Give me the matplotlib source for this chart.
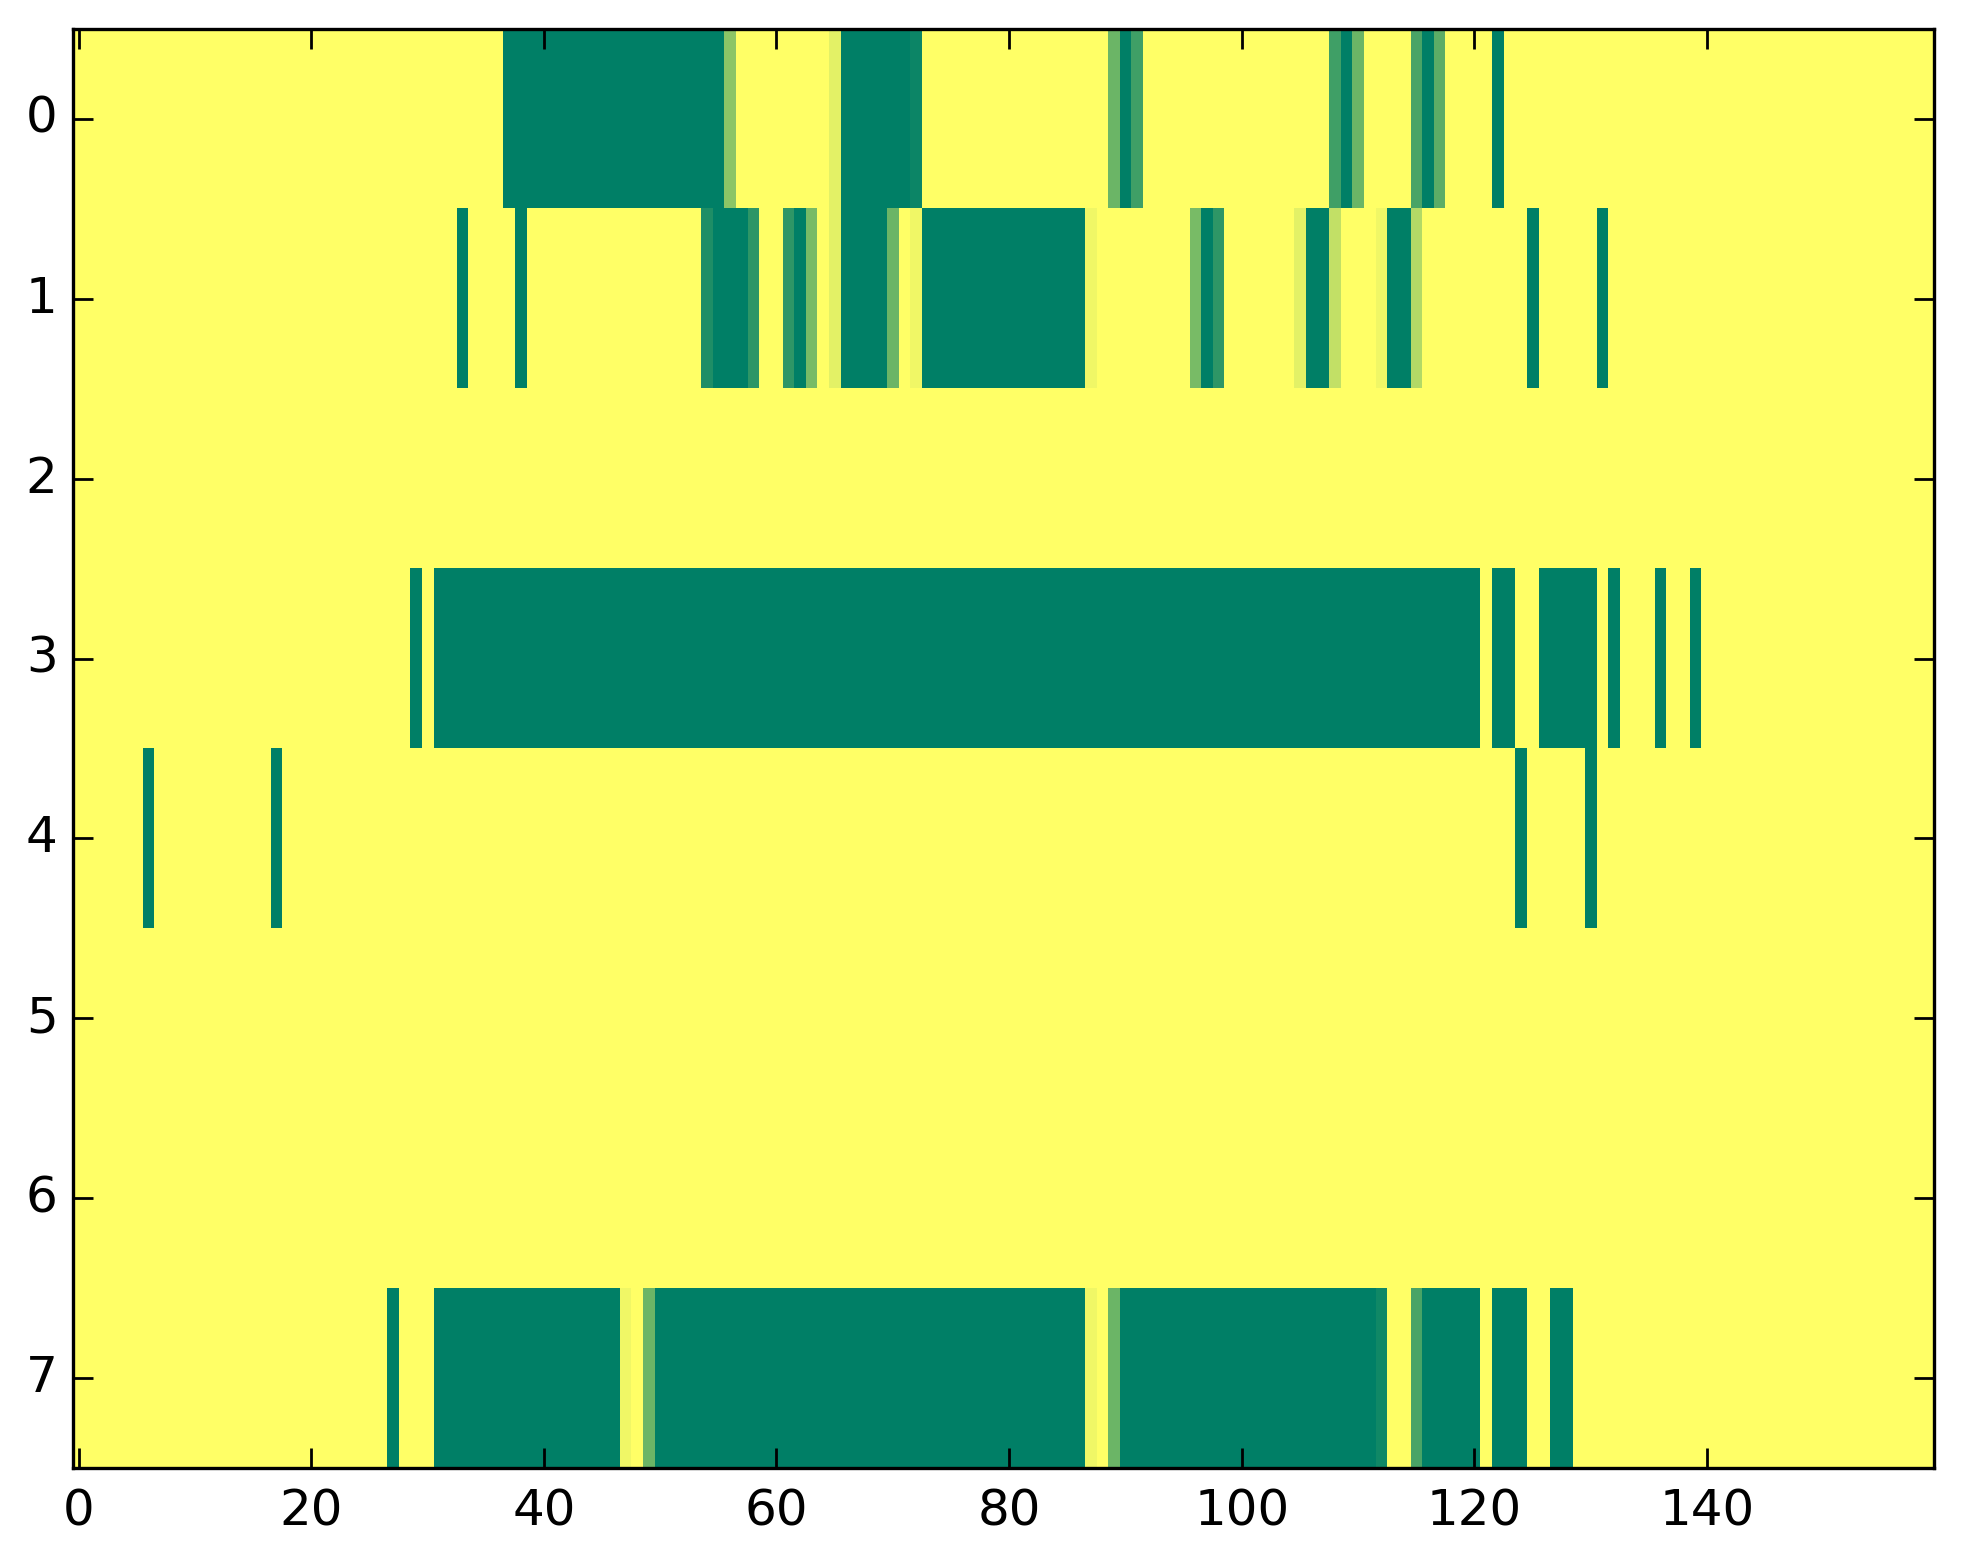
import numpy as np
import matplotlib
matplotlib.use("Agg")
import matplotlib.pyplot as plt

plt.style.use("classic")

N_ROWS = 8
N_COLS = 160

# runs of (first column, last column, value) for each row; the rest is 0
row0 = [(37, 55, 1.0), (56, 56, 0.45), (65, 65, 0.11), (66, 71, 1.0), (72, 72, 0.95),
        (89, 89, 0.58), (90, 90, 1.0), (91, 91, 0.75),
        (108, 108, 0.75), (109, 109, 1.0), (110, 110, 0.58),
        (115, 115, 0.71), (116, 116, 1.0), (117, 117, 0.64), (122, 122, 1.0)]
row1 = [(33, 33, 1.0), (38, 38, 1.0), (54, 54, 0.88), (55, 57, 1.0), (58, 58, 0.82),
        (61, 61, 0.82), (62, 62, 1.0), (63, 63, 0.53), (65, 65, 0.11), (66, 69, 1.0),
        (70, 70, 0.58), (72, 72, 0.06), (73, 86, 1.0), (87, 87, 0.06),
        (96, 96, 0.53), (97, 97, 1.0), (98, 98, 0.82),
        (105, 105, 0.11), (106, 107, 1.0), (108, 108, 0.24),
        (112, 112, 0.06), (113, 114, 1.0), (115, 115, 0.30),
        (125, 125, 1.0), (131, 131, 1.0)]
row2 = []
row3 = [(29, 29, 1.0), (31, 120, 1.0), (122, 123, 1.0), (126, 130, 1.0),
        (132, 132, 1.0), (136, 136, 1.0), (139, 139, 1.0)]
row4 = [(6, 6, 1.0), (17, 17, 1.0), (124, 124, 1.0), (130, 130, 1.0)]
row5 = []
row6 = []
row7 = [(27, 27, 1.0), (31, 46, 1.0), (47, 47, 0.06), (49, 49, 0.58), (50, 86, 1.0),
        (87, 87, 0.06), (89, 89, 0.58), (90, 111, 1.0), (112, 112, 0.93),
        (115, 115, 0.71), (116, 120, 1.0), (122, 124, 1.0), (127, 128, 1.0)]

rows = [row0, row1, row2, row3, row4, row5, row6, row7]

grid = np.zeros((N_ROWS, N_COLS))
for i, runs in enumerate(rows):
    for a, b, v in runs:
        grid[i, a:b + 1] = v

fig = plt.figure(figsize=(19.63, 15.64), dpi=100, facecolor="white")
ax = fig.add_axes([0.0371, 0.0614, 0.948, 0.9201])
ax.imshow(grid, cmap="summer_r", vmin=0, vmax=1, aspect="auto",
          interpolation="nearest")

ax.set_xticks(np.arange(0, 141, 20))
ax.set_yticks(np.arange(0, N_ROWS))
for sp in ax.spines.values():
    sp.set_linewidth(2.4)
ax.tick_params(which="major", direction="in", length=14.5, width=2,
               labelsize=36, top=True, right=True)
ax.tick_params(axis="x", pad=14)
ax.tick_params(axis="y", pad=11)

fig.savefig("out.png", dpi=100, facecolor="white")
